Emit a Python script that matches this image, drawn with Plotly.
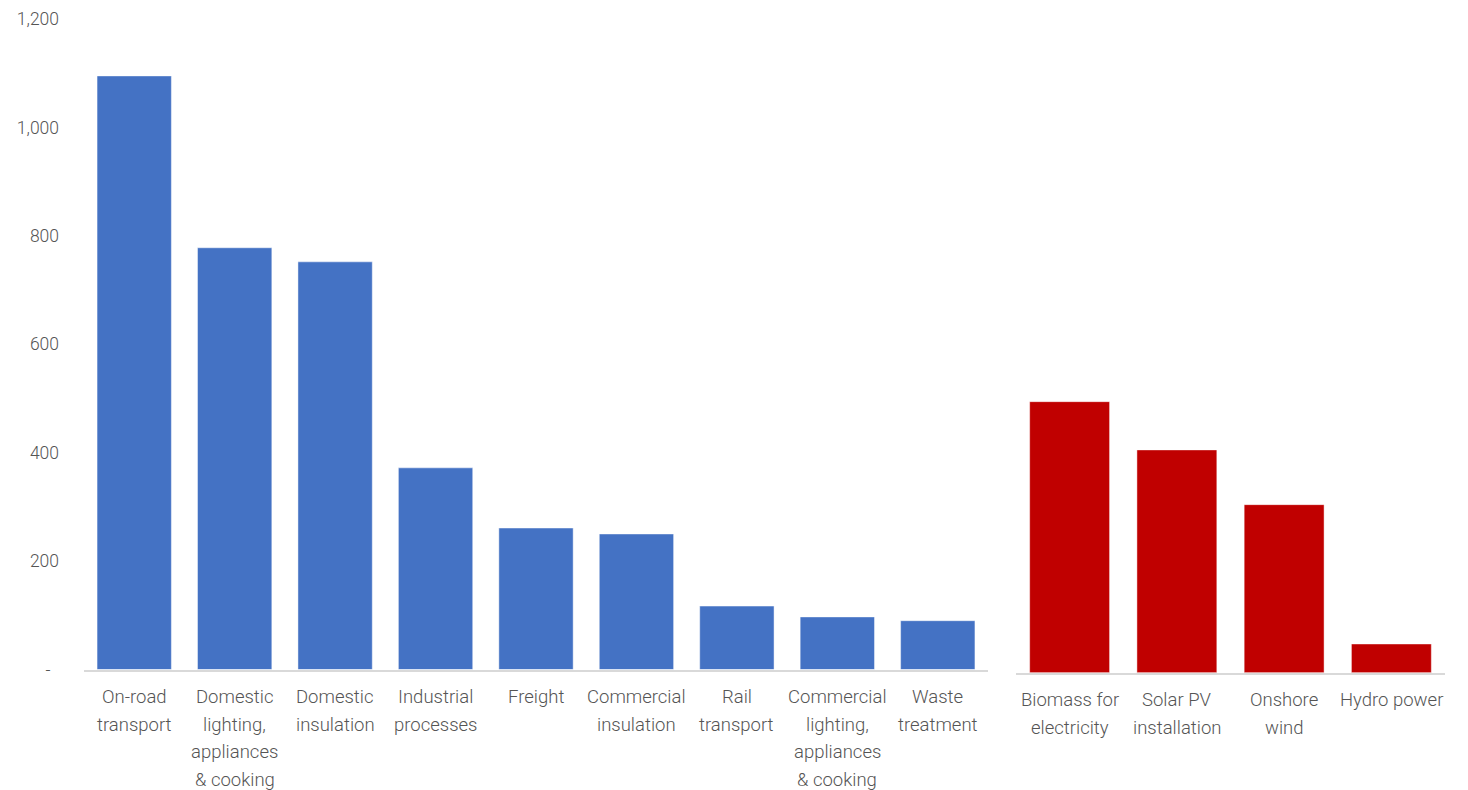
import plotly.graph_objects as go

# Demand-side measures (left panel)
demand_labels = [
    "On-road<br>transport",
    "Domestic<br>lighting,<br>appliances<br>& cooking",
    "Domestic<br>insulation",
    "Industrial<br>processes",
    "Freight",
    "Commercial<br>insulation",
    "Rail<br>transport",
    "Commercial<br>lighting,<br>appliances<br>& cooking",
    "Waste<br>treatment",
]
demand_values = [1095, 778, 752, 372, 261, 250, 117, 97, 90]

# Supply-side measures (right panel)
supply_labels = [
    "Biomass for<br>electricity",
    "Solar PV<br>installation",
    "Onshore<br>wind",
    "Hydro power",
]
supply_values = [500, 411, 310, 53]

y_tick_values = [0, 200, 400, 600, 800, 1000, 1200]
y_tick_text = ["-\u00a0\u00a0", "200", "400", "600", "800", "1,000", "1,200"]

BLUE = "#4472C4"
RED = "#C00000"
TEXT = "#555555"
FONT = "Roboto"

W, H = 1468, 790

fig = go.Figure()
fig.add_trace(go.Bar(
    x=list(range(len(demand_values))), y=demand_values,
    marker=dict(color=BLUE, line=dict(color="rgba(255,255,255,0.45)", width=1)),
    width=0.74, xaxis="x", yaxis="y", hoverinfo="skip",
))
fig.add_trace(go.Bar(
    x=list(range(len(supply_values))), y=supply_values,
    marker=dict(color=RED, line=dict(color="rgba(255,255,255,0.45)", width=1)),
    width=0.745, xaxis="x2", yaxis="y2", hoverinfo="skip",
))

# Multi-line category labels drawn beneath each panel
annotations = []
line_gap = 27.7
for axis, labels in (("x", demand_labels), ("x2", supply_labels)):
    yref = "y domain" if axis == "x" else "y2 domain"
    for i, lab in enumerate(labels):
        for j, part in enumerate(lab.split("<br>")):
            annotations.append(dict(
                x=i, y=0, xref=axis, yref=yref,
                text=part, showarrow=False,
                xanchor="center", yanchor="middle",
                yshift=-(27.5 + j * line_gap),
                font=dict(family=FONT, size=18.5, color=TEXT, weight=300),
            ))

px_x = lambda p: p / W
px_y = lambda p: 1 - p / H

fig.update_layout(
    width=W, height=H,
    margin=dict(l=0, r=0, t=0, b=0, autoexpand=False),
    paper_bgcolor="white", plot_bgcolor="white",
    showlegend=False,
    font=dict(family=FONT, color=TEXT),
    xaxis=dict(
        domain=[px_x(84), px_x(988)], range=[-0.5, len(demand_values) - 0.5],
        showticklabels=False, ticks="", showgrid=False, zeroline=False,
        showline=True, linecolor="#d9d9d9", linewidth=2, anchor="y",
        automargin=False,
    ),
    yaxis=dict(
        domain=[px_y(669.5), px_y(19)], range=[0, 1200],
        tickvals=y_tick_values, ticktext=y_tick_text,
        tickfont=dict(family=FONT, size=17.5, color=TEXT, weight=300),
        showgrid=False, zeroline=False, showline=False, ticks="",
        ticklabelstandoff=24, anchor="x", automargin=False,
    ),
    xaxis2=dict(
        domain=[px_x(1016), px_x(1445)], range=[-0.5, len(supply_values) - 0.5],
        showticklabels=False, ticks="", showgrid=False, zeroline=False,
        showline=True, linecolor="#d9d9d9", linewidth=2, anchor="y2",
        automargin=False,
    ),
    yaxis2=dict(
        domain=[px_y(672.7), px_y(22.2)], range=[0, 1200],
        showticklabels=False, showgrid=False, zeroline=False, showline=False,
        anchor="x2", automargin=False,
    ),
    annotations=annotations,
)

fig.write_html("out.html")
